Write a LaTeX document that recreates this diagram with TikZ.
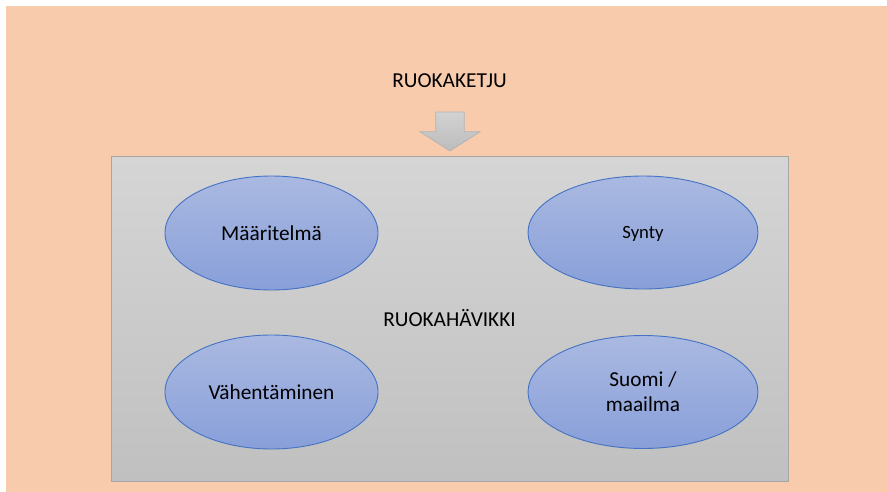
\documentclass[tikz,border=0pt]{standalone}
\usepackage{fontspec}
\setmainfont{Carlito}
\usetikzlibrary{shapes.geometric}
\definecolor{peach}{HTML}{F8CBAD}
\definecolor{boxtop}{HTML}{D5D5D5}
\definecolor{boxbot}{HTML}{C0C0C0}
\definecolor{boxline}{HTML}{A6A6A6}
\definecolor{elltop}{HTML}{AAB9E1}
\definecolor{ellbot}{HTML}{889FD9}
\definecolor{ellline}{HTML}{4472C4}
\definecolor{arrtop}{HTML}{D2D2D2}
\definecolor{arrbot}{HTML}{BCBCBC}
\definecolor{arrline}{HTML}{B4B4B4}
\tikzset{
  oval/.style={ellipse, draw=ellline, line width=0.9pt, top color=elltop, bottom color=ellbot,
    minimum width=213pt, minimum height=114pt, inner sep=0pt, align=center,
    font=\fontsize{21.3}{25}\selectfont},
  bigoval/.style={oval, minimum width=230pt, minimum height=113pt},
  title/.style={anchor=base, inner sep=0pt, font=\fontsize{21.3}{25}\selectfont}
}
\begin{document}
\begin{tikzpicture}[x=1pt,y=-1pt]
\useasboundingbox (0,0) rectangle (887,492);
\fill[white] (0,0) rectangle (887,492);
\fill[peach] (6,6) rectangle (887,492);
% grey panel
\draw[boxline, line width=1pt, top color=boxtop, bottom color=boxbot] (111,157) rectangle (788,481);
% block arrow
\draw[arrline, line width=0.8pt, top color=arrtop, bottom color=arrbot]
  (435.7,112) -- (464.3,112) -- (464.3,131.7) -- (480,131.7) -- (450,151) -- (420,131.7) -- (435.7,131.7) -- cycle;
\node[title] (chain) at (449.5,87.7) {RUOKAKETJU};
\node[title] (waste) at (449.5,326.7) {RUOKAHÄVIKKI};
\node[oval] (def) at (271.5,233) {Määritelmä};
\node[bigoval, font=\fontsize{18.7}{22}\selectfont, text depth=0pt] (orig) at (643,232.5) {Synty};
\node[oval] (red) at (271.5,392) {Vähentäminen};
\node[bigoval, text depth=0pt] (world) at (643,392) {Suomi /\\maailma};
\end{tikzpicture}
\end{document}
